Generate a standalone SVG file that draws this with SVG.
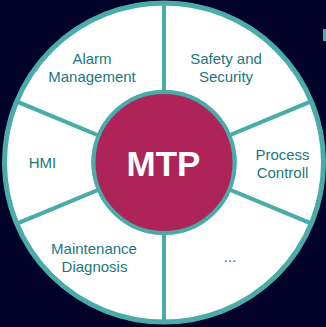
<svg xmlns="http://www.w3.org/2000/svg" width="326" height="327" viewBox="0 0 326 327">
  <style>
    .seg { fill: #ffffff; stroke: #4aaca9; stroke-width: 4; stroke-linejoin: round; }
    .lbl { font-family: "Liberation Sans", Arial, sans-serif; font-size: 15px; fill: #22777d; text-anchor: middle; }
    .core { fill: #ae2459; stroke: #4aaca9; stroke-width: 4; }
    .core-lbl { font-family: "Liberation Sans", Arial, sans-serif; font-size: 35px; font-weight: bold; fill: #ffffff; text-anchor: middle; }
  </style>
  <rect x="0" y="0" width="326" height="327" fill="#03032a"/>
  <rect x="323" y="29" width="3" height="12" fill="#4aaca9"/>

  <g id="safety">
    <path class="seg" d="M164 92 L164 3 A159.5 159.5 0 0 1 311.36 101.46 L229.13 135.52 A70.5 70.5 0 0 0 164 92 Z"/>
    <text class="lbl" x="226" y="64">Safety and</text>
    <text class="lbl" x="226" y="82">Security</text>
  </g>
  <g id="process">
    <path class="seg" d="M229.13 135.52 L311.36 101.46 A159.5 159.5 0 0 1 311.36 223.54 L229.13 189.48 A70.5 70.5 0 0 0 229.13 135.52 Z"/>
    <text class="lbl" x="282.5" y="160">Process</text>
    <text class="lbl" x="282.5" y="178">Controll</text>
  </g>
  <g id="more">
    <path class="seg" d="M229.13 189.48 L311.36 223.54 A159.5 159.5 0 0 1 164 322 L164 233 A70.5 70.5 0 0 0 229.13 189.48 Z"/>
    <text class="lbl" x="230" y="261.5">...</text>
  </g>
  <g id="maintenance">
    <path class="seg" d="M164 233 L164 322 A159.5 159.5 0 0 1 16.64 223.54 L98.87 189.48 A70.5 70.5 0 0 0 164 233 Z"/>
    <text class="lbl" x="94" y="254">Maintenance</text>
    <text class="lbl" x="94.5" y="272">Diagnosis</text>
  </g>
  <g id="hmi">
    <path class="seg" d="M98.87 189.48 L16.64 223.54 A159.5 159.5 0 0 1 16.64 101.46 L98.87 135.52 A70.5 70.5 0 0 0 98.87 189.48 Z"/>
    <text class="lbl" x="42.5" y="168">HMI</text>
  </g>
  <g id="alarm">
    <path class="seg" d="M98.87 135.52 L16.64 101.46 A159.5 159.5 0 0 1 164 3 L164 92 A70.5 70.5 0 0 0 98.87 135.52 Z"/>
    <text class="lbl" x="92" y="63.5">Alarm</text>
    <text class="lbl" x="92" y="81.5">Management</text>
  </g>

  <g id="ring">
    <circle cx="164" cy="162.5" r="159.5" fill="none" stroke="#4aaca9" stroke-width="5"/>
  </g>

  <g id="mtp">
    <circle class="core" cx="164" cy="162.5" r="70.5"/>
    <text class="core-lbl" x="163.5" y="176">MTP</text>
  </g>
</svg>
